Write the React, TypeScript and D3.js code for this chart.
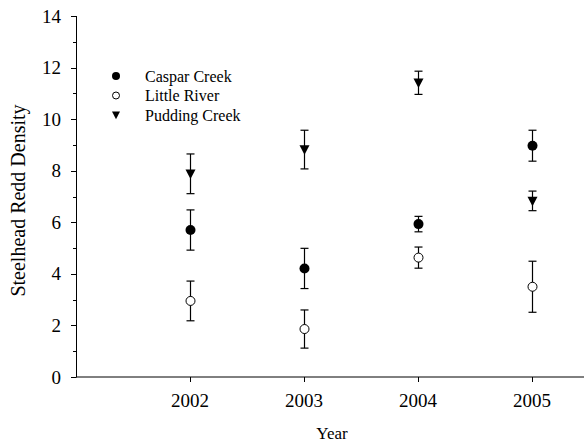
import React from "react";
import * as d3 from "d3";

const years = [2002, 2003, 2004, 2005];
const seriesNames = ["Caspar Creek", "Little River", "Pudding Creek"];
const casparMean = [5.7, 4.21, 5.93, 8.97];
const casparErr = [0.78, 0.78, 0.3, 0.6];
const littleMean = [2.95, 1.86, 4.63, 3.5];
const littleErr = [0.77, 0.74, 0.41, 0.99];
const puddingMean = [7.88, 8.82, 11.41, 6.83];
const puddingErr = [0.77, 0.75, 0.45, 0.38];
const yTicks = [0, 2, 4, 6, 8, 10, 12, 14];
const yMinorTicks = [1, 3, 5, 7, 9, 11, 13];

const W = 584;
const H = 446;
const FONT = "'Liberation Serif', 'Times New Roman', serif";

type Kind = "filled" | "open" | "tri";

function Marker({ kind, x, y, s }: { kind: Kind; x: number; y: number; s: number }) {
  if (kind === "filled") return <circle cx={x} cy={y} r={s} fill="#000" />;
  if (kind === "open") return <circle cx={x} cy={y} r={s - 0.5} fill="#fff" stroke="#000" strokeWidth={1} />;
  const p = d3.path();
  p.moveTo(x - s, y - s * 0.85);
  p.lineTo(x + s, y - s * 0.85);
  p.lineTo(x, y + s * 1.05);
  p.closePath();
  return <path d={p.toString()} fill="#000" />;
}

export default function App() {
  const x = d3.scaleLinear().domain([2001, 2006]).range([76, 646]);
  const y = d3.scaleLinear().domain([0, 14]).range([377, 16]);

  const series: { name: string; kind: Kind; mean: number[]; err: number[] }[] = [
    { name: seriesNames[0], kind: "filled", mean: casparMean, err: casparErr },
    { name: seriesNames[1], kind: "open", mean: littleMean, err: littleErr },
    { name: seriesNames[2], kind: "tri", mean: puddingMean, err: puddingErr },
  ];

  return (
    <div style={{ position: "fixed", left: 0, top: 0 }}>
      <svg width={W} height={H} style={{ display: "block", background: "#fff" }}>
        <g fontFamily={FONT} fill="#000">
          {/* y axis */}
          <line x1={76.5} x2={76.5} y1={16} y2={377} stroke="#000" strokeWidth={1} />
          {yTicks.map((t) => (
            <g key={"yt" + t}>
              <line x1={71} x2={76.5} y1={Math.round(y(t)) + 0.5} y2={Math.round(y(t)) + 0.5} stroke="#000" />
              <text x={61} y={y(t)} textAnchor="end" dominantBaseline="central" fontSize={19}>
                {t}
              </text>
            </g>
          ))}
          {yMinorTicks.map((t) => (
            <line key={"ym" + t} x1={73} x2={76.5} y1={Math.round(y(t)) + 0.5} y2={Math.round(y(t)) + 0.5} stroke="#000" />
          ))}
          {/* x axis */}
          <line x1={76} x2={W} y1={377} y2={377} stroke="#000" strokeWidth={1} />
          {years.map((yr) => (
            <g key={"xt" + yr}>
              <line x1={Math.round(x(yr)) + 0.5} x2={Math.round(x(yr)) + 0.5} y1={377} y2={382} stroke="#000" />
              <text x={x(yr)} y={406.5} textAnchor="middle" fontSize={19}>
                {yr}
              </text>
            </g>
          ))}
          <text x={332} y={438.5} textAnchor="middle" fontSize={17}>
            Year
          </text>
          <text
            transform={`translate(24.5, ${(103 + 298) / 2}) rotate(-90)`}
            textAnchor="middle"
            fontSize={20}
          >
            Steelhead Redd Density
          </text>

          {/* error bars and markers */}
          {series.map((s) =>
            years.map((yr, i) => {
              const cx = Math.round(x(yr)) + 0.5;
              const top = y(s.mean[i] + s.err[i]);
              const bot = y(s.mean[i] - s.err[i]);
              return (
                <g key={s.name + yr}>
                  <line x1={cx} x2={cx} y1={top} y2={bot} stroke="#000" strokeWidth={1.2} />
                  <line x1={cx - 4} x2={cx + 4} y1={top} y2={top} stroke="#000" strokeWidth={1.2} />
                  <line x1={cx - 4} x2={cx + 4} y1={bot} y2={bot} stroke="#000" strokeWidth={1.2} />
                  <Marker kind={s.kind} x={cx} y={y(s.mean[i])} s={5} />
                </g>
              );
            })
          )}

          {/* legend */}
          {series.map((s, i) => (
            <g key={"lg" + s.name}>
              <Marker kind={s.kind} x={116} y={76 + i * 19.5} s={4} />
              <text x={145} y={76 + i * 19.5} dominantBaseline="central" fontSize={16}>
                {s.name}
              </text>
            </g>
          ))}
        </g>
      </svg>
    </div>
  );
}
